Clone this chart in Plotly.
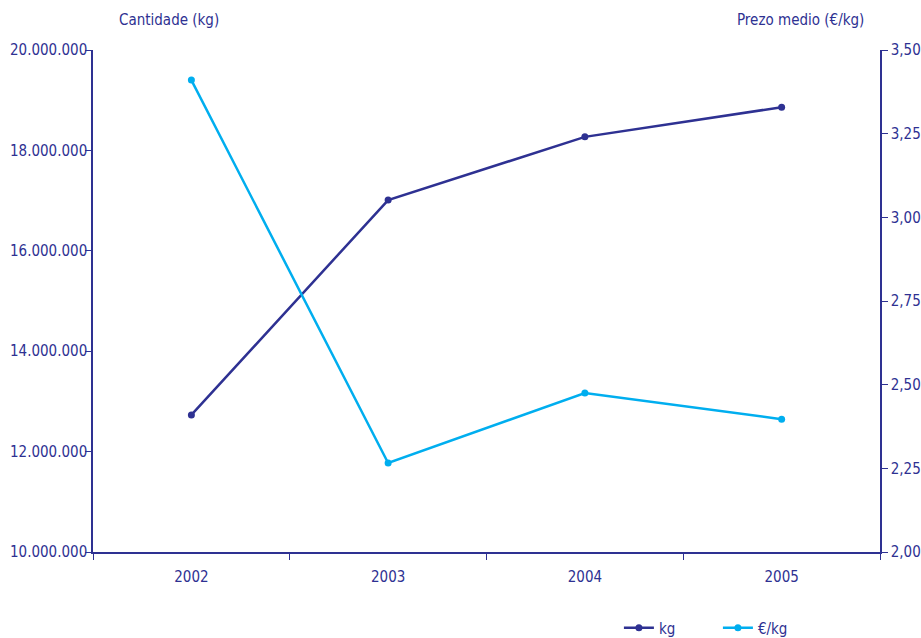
import plotly.graph_objects as go

years = ["2002", "2003", "2004", "2005"]
kg = [12730000, 17010000, 18270000, 18860000]
price = [3.41, 2.266, 2.475, 2.397]
left_ticks = [10000000, 12000000, 14000000, 16000000, 18000000, 20000000]
left_labels = ["10.000.000", "12.000.000", "14.000.000", "16.000.000", "18.000.000", "20.000.000"]
right_ticks = [2.0, 2.25, 2.5, 2.75, 3.0, 3.25, 3.5]
right_labels = ["2,00", "2,25", "2,50", "2,75", "3,00", "3,25", "3,50"]

DARK = "#2e3192"
LIGHT = "#00aeef"
FONT = "DejaVu Sans Condensed"
FS = 15

fig = go.Figure()
fig.add_trace(go.Scatter(x=years, y=kg, name="kg", mode="lines+markers",
                         line=dict(color=DARK, width=2.5), marker=dict(size=7, color=DARK)))
fig.add_trace(go.Scatter(x=years, y=price, name="€/kg", mode="lines+markers", yaxis="y2",
                         line=dict(color=LIGHT, width=2.5), marker=dict(size=7, color=LIGHT)))

axis_common = dict(showgrid=False, zeroline=False, showline=True, linecolor=DARK, linewidth=1.5,
                   ticks="outside", ticklen=6, tickcolor=DARK, tickwidth=1.2, automargin=False,
                   tickfont=dict(family=FONT, size=FS, color=DARK))

fig.update_layout(
    width=921, height=638,
    margin=dict(l=93, r=41, t=50, b=86),
    paper_bgcolor="white", plot_bgcolor="white",
    font=dict(family=FONT, color=DARK, size=FS),
    xaxis=dict(type="category", range=[-0.5, 3.5], tickson="boundaries", ticklabelstandoff=10,
               **axis_common),
    yaxis=dict(range=[10000000, 20000000], tickvals=left_ticks, ticktext=left_labels,
               ticklabelstandoff=-5, **axis_common),
    yaxis2=dict(range=[2.0, 3.5], tickvals=right_ticks, ticktext=right_labels, overlaying="y",
                side="right", **axis_common),
    legend=dict(orientation="h", xref="container", yref="container", x=0.672, y=0.0157,
                xanchor="left", yanchor="middle", entrywidth=54, entrywidthmode="pixels",
                font=dict(family=FONT, size=FS, color=DARK), itemwidth=30,
                bgcolor="rgba(0,0,0,0)"),
    annotations=[
        dict(text="Cantidade (kg)", xref="paper", yref="paper", x=0.03, y=1.0, yshift=30,
             xanchor="left", yanchor="middle", showarrow=False,
             font=dict(family=FONT, size=FS, color=DARK)),
        dict(text="Prezo medio (€/kg)", xref="paper", yref="paper", x=1.0, y=1.0, yshift=30, xshift=-14,
             xanchor="right", yanchor="middle", showarrow=False,
             font=dict(family=FONT, size=FS, color=DARK)),
    ],
)

fig.write_html("out.html", config={"displayModeBar": False},
               post_script="document.body.style.margin='0px';")
